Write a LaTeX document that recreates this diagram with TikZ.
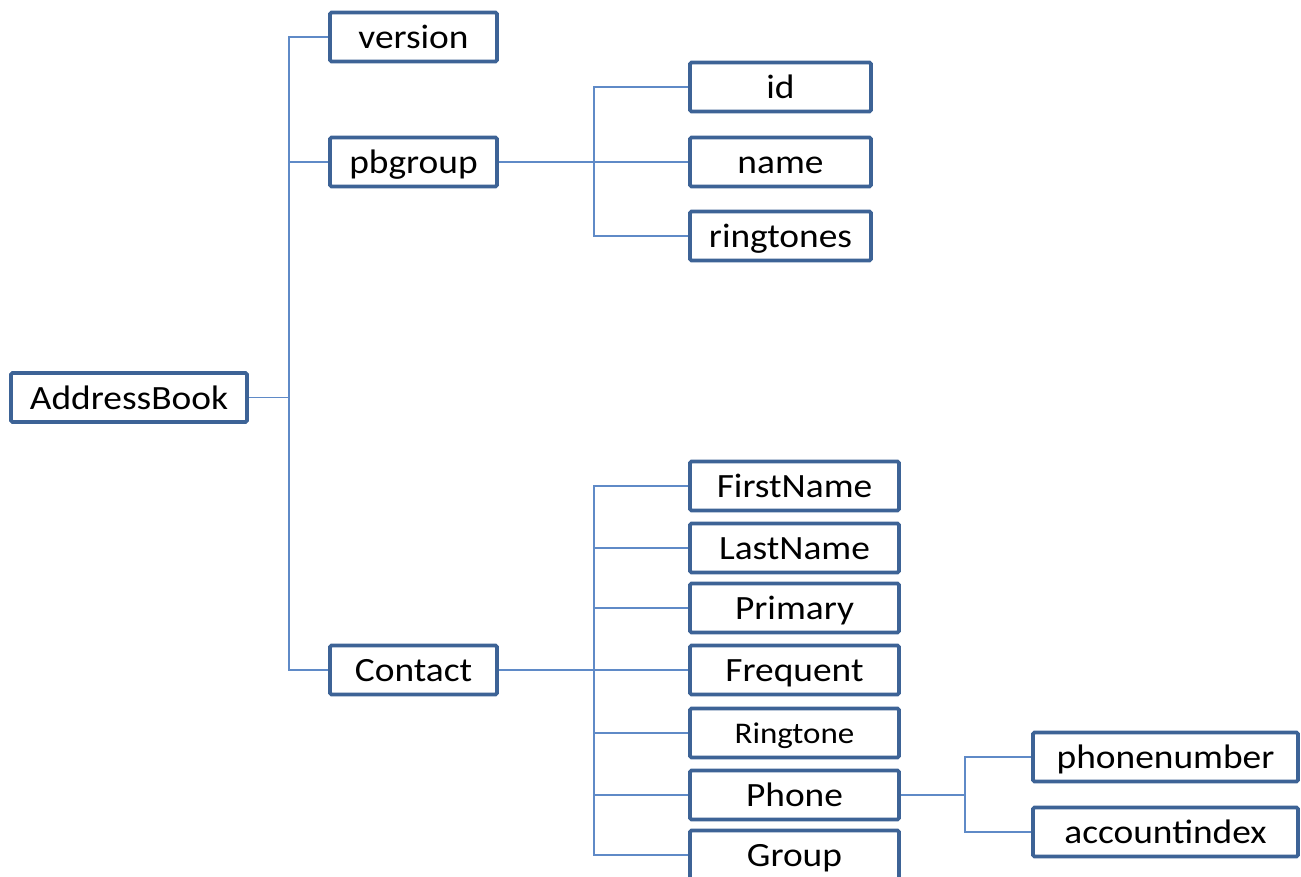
\documentclass[tikz,border=0pt]{standalone}
\usepackage{fontspec}
\setmainfont{Carlito}[FakeStretch=1.1]
\definecolor{boxc}{HTML}{3D6396}
\definecolor{linec}{HTML}{5F8AC7}
\begin{document}
\begin{tikzpicture}[x=1pt,y=-1pt,
  box/.style={draw=boxc,line width=3.6pt,rounded corners=1.5pt,fill=white,inner sep=0pt,minimum height=49pt,text height=27pt,text depth=4pt,font=\fontsize{34}{36}\selectfont,text=black},
  small/.style={font=\fontsize{30}{32}\selectfont,text height=24pt,text depth=3pt},
  wA/.style={minimum width=236pt},
  wB/.style={minimum width=167pt},
  wC/.style={minimum width=181pt},
  wD/.style={minimum width=209pt},
  wE/.style={minimum width=265pt},
  conn/.style={draw=linec,line width=1.5pt}]
\useasboundingbox (0,0) rectangle (1301,877);
\clip (0,0) rectangle (1301,877);
\coordinate (b1) at (289,0);
\coordinate (b2) at (594,0);
\coordinate (b3) at (965,0);
\node[box,wA] (ab) at (129,397.5) {AddressBook};
\node[box,wB] (ver) at (413.5,37) {version};
\node[box,wB] (pbg) at (413.5,162) {pbgroup};
\node[box,wB] (con) at (413.5,670) {Contact};
\node[box,wC] (id) at (780.5,87) {id};
\node[box,wC] (nm) at (780.5,162) {name};
\node[box,wC] (rts) at (780.5,236) {ringtones};
\node[box,wD] (fn) at (794.5,486) {FirstName};
\node[box,wD] (ln) at (794.5,548) {LastName};
\node[box,wD] (pr) at (794.5,608) {Primary};
\node[box,wD] (fr) at (794.5,670) {Frequent};
\node[box,wD,small] (rt) at (794.5,733) {Ringtone};
\node[box,wD] (ph) at (794.5,795) {Phone};
\node[box,wD] (gr) at (794.5,855) {Group};
\node[box,wE] (pn) at (1165.5,757) {phonenumber};
\node[box,wE] (ai) at (1165.5,832) {accountindex};
\draw[conn] (ab.east) -- (ab.east -| b1);
\draw[conn] (ver.west) -| (ab.east -| b1);
\draw[conn] (con.west) -| (ab.east -| b1);
\draw[conn] (pbg.west) -- (pbg.west -| b1);
\draw[conn] (pbg.east) -- (pbg.east -| b2);
\draw[conn] (id.west) -| (pbg.east -| b2);
\draw[conn] (rts.west) -| (pbg.east -| b2);
\draw[conn] (nm.west) -- (nm.west -| b2);
\draw[conn] (con.east) -- (fr.west);
\draw[conn] (fn.west) -| (con.east -| b2);
\draw[conn] (gr.west) -| (con.east -| b2);
\draw[conn] (ln.west) -- (ln.west -| b2);
\draw[conn] (pr.west) -- (pr.west -| b2);
\draw[conn] (rt.west) -- (rt.west -| b2);
\draw[conn] (ph.west) -- (ph.west -| b2);
\draw[conn] (ph.east) -- (ph.east -| b3);
\draw[conn] (pn.west) -| (ph.east -| b3);
\draw[conn] (ai.west) -| (ph.east -| b3);
\end{tikzpicture}
\end{document}
